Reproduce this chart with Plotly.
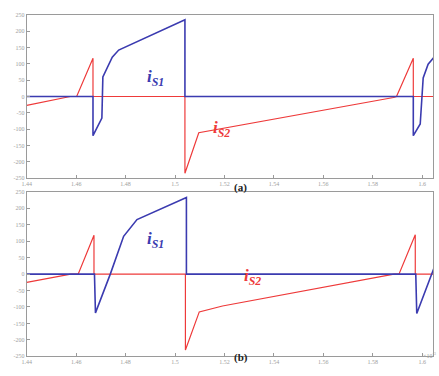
import plotly.graph_objects as go

# ---- data (x in tick units, y in axis units) ----
x_ticks = [0, 1, 2, 3, 4, 5, 6, 7, 8]
x_tick_labels = ["1.44", "1.46", "1.48", "1.5", "1.52", "1.54", "1.56", "1.58", "1.6"]
y_ticks = [-250, -200, -150, -100, -50, 0, 50, 100, 150, 200, 250]
y_tick_labels = ["-250", "-200", "-150", "-100", "-50", "0", "50", "100", "150", "200", "250"]

# panel (a)
a_is2_x = [0, 0.88, 1.01, 1.34, 1.34, 3.2, 3.2, 3.48, 7.42, 7.48, 7.82, 7.82, 8.3]
a_is2_y = [-27, 0, 0, 117, 0, 0, -235, -111, -3, 0, 117, 0, 0]
a_is1_x = [0, 1.34, 1.34, 1.52, 1.54, 1.63, 1.73, 1.86, 3.2, 3.2, 7.82, 7.82, 7.96, 8.02, 8.12, 8.32]
a_is1_y = [0, 0, -120, -66, 60, 90, 120, 142, 235, 0, 0, -120, -84, 57, 99, 135]

# panel (b)
b_is2_x = [0, 0.89, 1.04, 1.36, 1.36, 3.21, 3.21, 3.49, 3.96, 7.43, 7.53, 7.86, 7.86, 8.3]
b_is2_y = [-25, 0, 0, 118, 0, 0, -231, -115, -97, 0, 0, 120, 0, 0]
b_is1_x = [0, 1.37, 1.39, 1.69, 1.96, 2.23, 3.23, 3.23, 7.87, 7.89, 8.33]
b_is1_y = [0, 0, -118, 0, 115, 166, 233, 0, 0, -120, 55]

RED = "#ee3a3a"
BLUE = "#3b3bb0"

fig = go.Figure()
for xs, ys, col, w, xa, ya in [
    (a_is2_x, a_is2_y, RED, 1.2, "x", "y"),
    (a_is1_x, a_is1_y, BLUE, 1.6, "x", "y"),
    (b_is2_x, b_is2_y, RED, 1.2, "x2", "y2"),
    (b_is1_x, b_is1_y, BLUE, 1.6, "x2", "y2"),
]:
    fig.add_trace(go.Scatter(x=xs, y=ys, mode="lines", line=dict(color=col, width=w),
                             xaxis=xa, yaxis=ya, showlegend=False, hoverinfo="skip"))

ax_common = dict(showline=True, linecolor="#9a9a9a", linewidth=1, mirror=True,
                 ticks="inside", ticklen=3, tickcolor="#9a9a9a", showgrid=False,
                 zeroline=False, tickfont=dict(size=6, color="#a0a0a0", family="Liberation Serif"))
xdom = [22 / 439, 433 / 439]
fig.update_layout(
    width=439, height=376, margin=dict(l=0, r=0, t=0, b=0),
    paper_bgcolor="white", plot_bgcolor="white",
    xaxis=dict(domain=xdom, range=[0, 8.22], tickvals=x_ticks, ticktext=x_tick_labels,
               anchor="y", **ax_common),
    yaxis=dict(domain=[1 - 178 / 376, 1 - 12 / 376], range=[-250, 250], tickvals=y_ticks,
               ticktext=y_tick_labels, anchor="x", **ax_common),
    xaxis2=dict(domain=xdom, range=[0, 8.22], tickvals=x_ticks, ticktext=x_tick_labels,
                anchor="y2", **ax_common),
    yaxis2=dict(domain=[1 - 359 / 376, 1 - 192 / 376], range=[-250, 250], tickvals=y_ticks,
                ticktext=y_tick_labels, anchor="x2", **ax_common),
)

serif = "Liberation Serif"
anns = [
    dict(x=142 / 439, y=1 - 63 / 376, text="<b><i>i<sub>S1</sub></i></b>", color=BLUE),
    dict(x=219 / 439, y=1 - 115 / 376, text="<b><i>i<sub>S2</sub></i></b>", color=RED),
    dict(x=152 / 439, y=1 - 241 / 376, text="<b><i>i<sub>S1</sub></i></b>", color=BLUE),
    dict(x=250 / 439, y=1 - 292 / 376, text="<b><i>i<sub>S2</sub></i></b>", color=RED),
]
for a in anns:
    fig.add_annotation(x=a["x"], y=a["y"], xref="paper", yref="paper", text=a["text"],
                       showarrow=False, font=dict(family=serif, size=17, color=a["color"]))

fig.add_annotation(x=238 / 439, y=1 - 187 / 376, xref="paper", yref="paper", text="<b>(a)</b>",
                   showarrow=False, font=dict(family=serif, size=11, color="#222"))
fig.add_annotation(x=239 / 439, y=1 - 369 / 376, xref="paper", yref="paper", text="<b>(b)</b>",
                   showarrow=False, font=dict(family=serif, size=11, color="#222"))
fig.add_annotation(x=438 / 439, y=1 - 364 / 376, xref="paper", yref="paper",
                   text="×10<sup>-3</sup>", xanchor="right",
                   showarrow=False, font=dict(family=serif, size=6, color="#a0a0a0"))

fig.write_html("out.html", config={"displayModeBar": False},
               post_script="document.body.style.margin='0';")
